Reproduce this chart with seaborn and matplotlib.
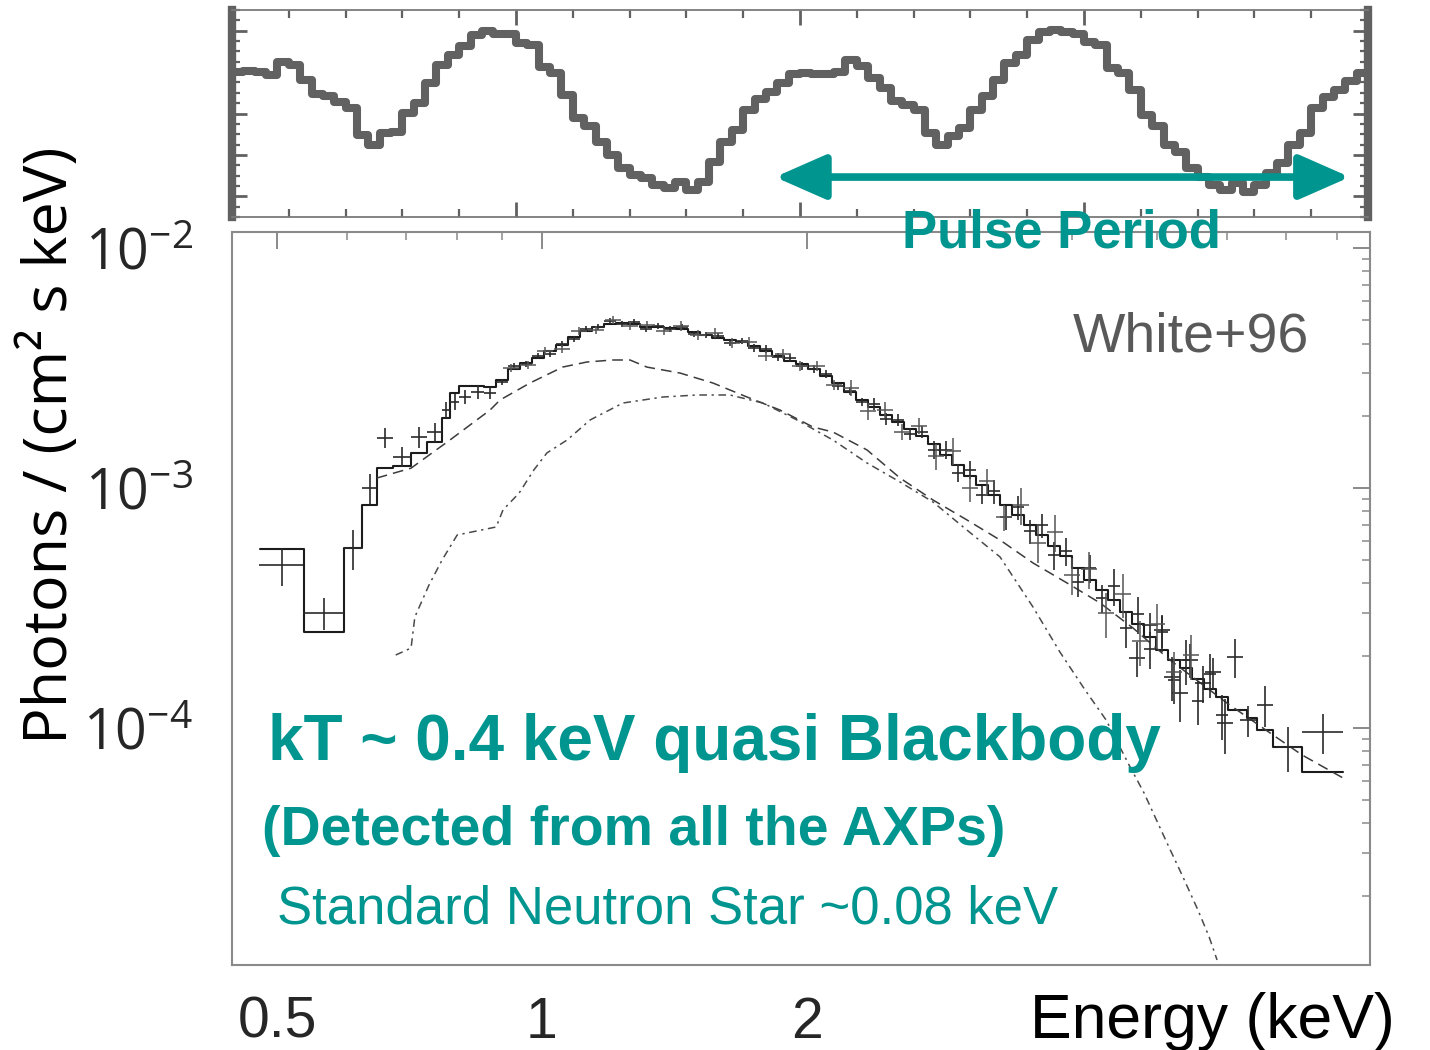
import numpy as np
import matplotlib
matplotlib.use("Agg")
import matplotlib.pyplot as plt
import seaborn as sns
import pandas as pd
from matplotlib.ticker import FixedLocator, NullFormatter, MultipleLocator

# ---------------- data ----------------
# pulse profile: 50 phase bins per cycle, two cycles shown (normalised rate)
pulse_cycle1 = [0.700, 0.705, 0.700, 0.686, 0.749, 0.734, 0.662, 0.594, 0.585, 0.556,
                0.527, 0.396, 0.348, 0.406, 0.411, 0.502, 0.551, 0.647, 0.734, 0.783,
                0.826, 0.879, 0.899, 0.884, 0.884, 0.841, 0.831, 0.725, 0.696, 0.589,
                0.478, 0.440, 0.362, 0.300, 0.237, 0.203, 0.188, 0.155, 0.140, 0.169,
                0.130, 0.169, 0.266, 0.362, 0.420, 0.517, 0.570, 0.604, 0.647, 0.691]
pulse_cycle2 = [0.696, 0.691, 0.691, 0.700, 0.758, 0.729, 0.671, 0.623, 0.560, 0.541,
                0.517, 0.406, 0.348, 0.391, 0.430, 0.517, 0.585, 0.662, 0.744, 0.783,
                0.855, 0.894, 0.903, 0.894, 0.884, 0.845, 0.831, 0.720, 0.696, 0.614,
                0.493, 0.440, 0.348, 0.314, 0.237, 0.193, 0.155, 0.130, 0.164, 0.121,
                0.155, 0.213, 0.261, 0.348, 0.406, 0.527, 0.580, 0.614, 0.657, 0.696]

# total model, low-energy bins (edges in keV) and values (photons/cm2/s/keV)
model_low_edges = [0.478, 0.536, 0.596, 0.625, 0.649, 0.677, 0.710, 0.740, 0.770,
                   0.786, 0.805, 0.830, 0.859, 0.887]
model_low_total = [5.57e-4, 2.51e-4, 5.62e-4, 8.50e-4, 1.21e-3, 1.235e-3, 1.40e-3,
                   1.555e-3, 1.957e-3, 2.488e-3, 2.66e-3, 2.66e-3, 2.635e-3]
# fine bins (centres, keV)
fine_energy = [0.901, 0.929, 0.959, 0.990, 1.021, 1.054, 1.087, 1.122, 1.158, 1.195,
               1.233, 1.272, 1.313, 1.354, 1.398, 1.442, 1.488, 1.536, 1.585, 1.635,
               1.688, 1.741, 1.797, 1.854, 1.913, 1.974, 2.037, 2.102, 2.169, 2.239,
               2.310, 2.384, 2.460, 2.538, 2.619, 2.703, 2.789, 2.878, 2.970, 3.064,
               3.162, 3.263, 3.367, 3.474, 3.585, 3.700, 3.818, 3.939, 4.065, 4.195,
               4.329, 4.467, 4.609, 4.756, 4.908, 5.065, 5.226, 5.393, 5.565, 5.743,
               5.926]
model_fine_total = [2.82e-3, 3.13e-3, 3.32e-3, 3.48e-3, 3.72e-3, 3.94e-3, 4.26e-3, 4.51e-3,
                    4.69e-3, 4.82e-3, 4.87e-3, 4.82e-3, 4.69e-3, 4.69e-3, 4.64e-3, 4.60e-3,
                    4.47e-3, 4.34e-3, 4.22e-3, 4.14e-3, 4.06e-3, 3.91e-3, 3.72e-3, 3.55e-3,
                    3.38e-3, 3.29e-3, 3.13e-3, 2.93e-3, 2.74e-3, 2.51e-3, 2.33e-3, 2.18e-3,
                    2.01e-3, 1.88e-3, 1.76e-3, 1.65e-3, 1.53e-3, 1.37e-3, 1.25e-3, 1.12e-3,
                    1.03e-3, 9.35e-4, 8.50e-4, 7.72e-4, 7.01e-4, 6.37e-4, 5.73e-4, 5.21e-4,
                    4.64e-4, 4.14e-4, 3.76e-4, 3.41e-4, 3.04e-4, 2.71e-4, 2.39e-4, 2.11e-4,
                    1.92e-4, 1.78e-4, 1.60e-4, 1.45e-4, 1.35e-4]
model_high_edges = [6.018, 6.326, 6.494, 6.771, 7.305, 8.133]
model_high_total = [1.19e-4, 1.10e-4, 9.81e-5, 8.33e-5, 6.56e-5]

# model components
pl_energy = [0.649, 0.710, 0.786, 0.873, 0.896, 0.969, 1.056, 1.125, 1.204, 1.259, 1.316,
             1.435, 1.564, 1.710, 1.864, 2.032, 2.141, 2.341, 2.552, 2.782, 3.040, 3.315,
             3.614, 3.950, 4.306, 4.694, 5.172, 6.004, 6.771, 7.305, 8.133]
pl_flux = [1.10e-3, 1.21e-3, 1.585e-3, 2.113e-3, 2.326e-3, 2.738e-3, 3.192e-3, 3.350e-3,
           3.415e-3, 3.415e-3, 3.19e-3, 3.013e-3, 2.738e-3, 2.394e-3, 2.113e-3, 1.795e-3,
           1.711e-3, 1.44e-3, 1.10e-3, 8.91e-4, 7.36e-4, 6.07e-4, 4.87e-4, 4.02e-4,
           3.32e-4, 2.61e-4, 1.92e-4, 1.27e-4, 9.35e-5, 7.72e-5, 6.19e-5]
bb_energy = [0.682, 0.710, 0.717, 0.744, 0.770, 0.801, 0.887, 0.903, 0.942, 0.979, 1.013,
             1.068, 1.134, 1.236, 1.372, 1.500, 1.635, 1.783, 1.949, 2.141, 2.341, 2.552,
             2.782, 3.040, 3.315, 3.614, 3.878, 4.141, 4.375, 4.646, 4.832, 5.131, 5.351,
             5.565, 5.728, 5.849]
bb_flux = [2.014e-4, 2.154e-4, 2.90e-4, 3.94e-4, 5.01e-4, 6.37e-4, 6.88e-4, 8.10e-4,
           9.53e-4, 1.189e-3, 1.40e-3, 1.585e-3, 1.920e-3, 2.260e-3, 2.394e-3, 2.441e-3,
           2.441e-3, 2.26e-3, 1.92e-3, 1.585e-3, 1.271e-3, 1.059e-3, 8.74e-4, 6.68e-4,
           5.16e-4, 3.19e-4, 2.07e-4, 1.44e-4, 1.08e-4, 7.01e-5, 5.36e-5, 3.32e-5,
           2.39e-5, 1.74e-5, 1.35e-5, 1.08e-5]

# data points (crosses), detector 1
low_energy = [0.506, 0.565, 0.610, 0.637, 0.663, 0.693, 0.725, 0.755, 0.778, 0.796,
              0.818, 0.845, 0.873]
low_energy_err = [0.029, 0.030, 0.0145, 0.012, 0.014, 0.0165, 0.015, 0.015, 0.008,
                  0.0095, 0.0125, 0.0145, 0.014]
low_flux = [4.78e-4, 3.01e-4, 5.62e-4, 1.00e-3, 1.62e-3, 1.35e-3, 1.63e-3, 1.71e-3,
            2.11e-3, 2.28e-3, 2.39e-3, 2.51e-3, 2.49e-3]
low_flux_err = [8.7e-5, 4.6e-5, 1.08e-4, 1.44e-4, 1.55e-4, 1.29e-4, 1.57e-4, 1.48e-4,
                1.62e-4, 1.75e-4, 1.61e-4, 1.69e-4, 1.43e-4]

fine_energy_err = [0.014, 0.015, 0.015, 0.016, 0.016, 0.017, 0.017, 0.018, 0.018, 0.019,
                   0.019, 0.020, 0.021, 0.021, 0.022, 0.023, 0.024, 0.024, 0.025, 0.026,
                   0.027, 0.028, 0.028, 0.029, 0.030, 0.031, 0.032, 0.033, 0.034, 0.035,
                   0.036, 0.038, 0.039, 0.040, 0.041, 0.043, 0.044, 0.045, 0.047, 0.048,
                   0.050, 0.052, 0.053, 0.055, 0.057, 0.058, 0.060, 0.062, 0.064, 0.066,
                   0.068, 0.071, 0.073, 0.075, 0.078, 0.080, 0.083, 0.085, 0.088, 0.091,
                   0.094]
fine_flux = [2.76e-3, 3.22e-3, 3.29e-3, 3.55e-3, 3.62e-3, 3.98e-3, 4.18e-3, 4.60e-3,
             4.69e-3, 4.96e-3, 4.82e-3, 4.92e-3, 4.60e-3, 4.73e-3, 4.60e-3, 4.69e-3,
             4.38e-3, 4.34e-3, 4.30e-3, 4.02e-3, 4.10e-3, 3.83e-3, 3.79e-3, 3.51e-3,
             3.48e-3, 3.22e-3, 3.13e-3, 2.99e-3, 2.66e-3, 2.54e-3, 2.28e-3, 2.24e-3,
             1.94e-3, 1.92e-3, 1.68e-3, 1.71e-3, 1.44e-3, 1.44e-3, 1.16e-3, 1.19e-3,
             9.35e-4, 9.72e-4, 7.57e-4, 8.33e-4, 6.62e-4, 7.01e-4, 5.26e-4, 5.46e-4,
             4.06e-4, 4.64e-4, 3.48e-4, 3.91e-4, 2.61e-4, 2.99e-4, 2.13e-4, 2.51e-4,
             1.59e-4, 1.92e-4, 1.30e-4, 1.68e-4, 1.13e-4]
fine_flux_err = [8.0e-5, 9.3e-5, 9.5e-5, 1.02e-4, 1.04e-4, 1.15e-4, 1.20e-4, 1.32e-4,
                 1.35e-4, 1.43e-4, 1.39e-4, 1.42e-4, 1.32e-4, 1.36e-4, 1.32e-4, 1.35e-4,
                 1.26e-4, 1.25e-4, 1.24e-4, 1.16e-4, 1.18e-4, 1.47e-4, 1.46e-4, 1.35e-4,
                 1.34e-4, 1.24e-4, 1.20e-4, 1.15e-4, 1.02e-4, 9.7e-5, 8.8e-5, 1.29e-4,
                 1.12e-4, 1.11e-4, 9.7e-5, 9.9e-5, 1.24e-4, 1.24e-4, 1.00e-4, 1.03e-4,
                 8.1e-5, 1.12e-4, 8.7e-5, 9.6e-5, 7.6e-5, 8.1e-5, 7.0e-5, 7.3e-5,
                 5.4e-5, 6.2e-5, 4.7e-5, 6.8e-5, 4.5e-5, 5.2e-5, 3.7e-5, 4.3e-5,
                 3.3e-5, 4.1e-5, 2.7e-5, 3.5e-5, 2.4e-5]

high_energy = [4.745, 4.908, 5.065, 5.199, 5.309, 5.449, 5.638, 5.788, 5.973, 6.131,
               6.343, 6.631, 7.041, 7.720]
high_energy_err = [0.10, 0.10, 0.11, 0.11, 0.11, 0.11, 0.12, 0.12, 0.13, 0.13, 0.13,
                   0.14, 0.22, 0.41]
high_flux = [1.96e-4, 2.69e-4, 2.56e-4, 1.63e-4, 1.40e-4, 1.92e-4, 1.54e-4, 1.71e-4,
             1.05e-4, 1.98e-4, 1.08e-4, 1.25e-4, 8.33e-5, 9.62e-5]
high_flux_err = [3.3e-5, 3.3e-5, 4.0e-5, 3.4e-5, 3.4e-5, 3.1e-5, 2.7e-5, 2.5e-5, 2.7e-5,
                 3.6e-5, 1.6e-5, 2.4e-5, 1.8e-5, 1.8e-5]

# data points, detector 2
det2_energy = [0.922, 0.964, 1.008, 1.054, 1.102, 1.152, 1.204, 1.259, 1.316, 1.376,
               1.439, 1.504, 1.573, 1.644, 1.719, 1.797, 1.879, 1.964, 2.054, 2.147,
               2.245, 2.347, 2.454, 2.565, 2.682, 2.804, 2.932, 3.064, 3.204, 3.350,
               3.502, 3.661, 3.828, 4.002, 4.184, 4.375, 4.574, 4.782, 4.999, 5.226,
               5.464]
det2_energy_err = [0.019, 0.020, 0.021, 0.022, 0.023, 0.024, 0.025, 0.026, 0.028, 0.029,
                   0.030, 0.032, 0.033, 0.035, 0.036, 0.038, 0.039, 0.041, 0.043, 0.045,
                   0.047, 0.049, 0.052, 0.054, 0.056, 0.059, 0.062, 0.064, 0.067, 0.070,
                   0.074, 0.077, 0.080, 0.084, 0.088, 0.092, 0.096, 0.100, 0.105, 0.110,
                   0.115]
det2_flux = [3.16e-3, 3.26e-3, 3.72e-3, 3.79e-3, 4.51e-3, 4.55e-3, 5.01e-3, 4.73e-3,
             4.78e-3, 4.51e-3, 4.73e-3, 4.34e-3, 4.43e-3, 4.02e-3, 4.06e-3, 3.55e-3,
             3.62e-3, 3.22e-3, 3.22e-3, 2.69e-3, 2.61e-3, 2.09e-3, 2.11e-3, 1.71e-3,
             1.81e-3, 1.36e-3, 1.43e-3, 1.00e-3, 1.07e-3, 7.57e-4, 8.50e-4, 5.90e-4,
             6.56e-4, 4.34e-4, 4.60e-4, 3.01e-4, 3.62e-4, 2.30e-4, 2.71e-4, 1.71e-4,
             2.01e-4]
det2_flux_err = [1.21e-4, 1.25e-4, 1.43e-4, 1.46e-4, 1.73e-4, 1.75e-4, 1.92e-4, 1.82e-4,
                 1.83e-4, 1.73e-4, 2.27e-4, 2.08e-4, 2.12e-4, 1.93e-4, 1.95e-4, 1.70e-4,
                 1.74e-4, 1.55e-4, 1.55e-4, 1.29e-4, 2.00e-4, 1.61e-4, 1.62e-4, 1.31e-4,
                 1.39e-4, 1.69e-4, 1.78e-4, 1.25e-4, 1.33e-4, 9.4e-5, 1.47e-4, 1.02e-4,
                 1.13e-4, 7.5e-5, 8.0e-5, 6.4e-5, 7.6e-5, 4.9e-5, 5.7e-5, 3.6e-5, 4.2e-5]

x_tick_values = [0.5, 1, 2]
x_tick_labels = ["0.5", "1", "2"]
y_tick_values = [1e-4, 1e-3, 1e-2]
y_tick_labels = [r"$\mathregular{10^{-4}}$", r"$\mathregular{10^{-3}}$", r"$\mathregular{10^{-2}}$"]

# ---------------- styling ----------------
sns.set_theme(style="white")
plt.rcParams["font.family"] = ["Liberation Sans", "DejaVu Sans"]
TEAL = "#00958F"
W, H = 1430, 1050
SANS = ["Liberation Sans", "DejaVu Sans"]
OPEN = ["Open Sans", "DejaVu Sans"]

fig = plt.figure(figsize=(W / 100, H / 100), dpi=100)
fig.patch.set_facecolor("white")


def fx(px):
    return px / W


def fy(py):
    return 1 - py / H


# ---------------- top panel: pulse profile ----------------
ax_top = fig.add_axes([fx(232), fy(217), (1368 - 232) / W, (217 - 10) / H])
prof = pulse_cycle1 + pulse_cycle2
nb = len(pulse_cycle1)
phase_edges = np.arange(len(prof) + 1) / nb
df_lc = pd.DataFrame({"phase": phase_edges, "rate": prof + [prof[-1]]})
sns.lineplot(data=df_lc, x="phase", y="rate", ax=ax_top, drawstyle="steps-post",
             color="#616161", linewidth=5.8, estimator=None, sort=False, legend=False)
ax_top.set_xlim(0, 2)
ax_top.set_ylim(0, 1)
ax_top.set_xlabel("")
ax_top.set_ylabel("")
for side in ["left", "right"]:
    ax_top.spines[side].set_linewidth(6)
    ax_top.spines[side].set_color("#616161")
for side in ["top", "bottom"]:
    ax_top.spines[side].set_linewidth(1.3)
    ax_top.spines[side].set_color("#7a7a7a")
ax_top.yaxis.set_major_locator(FixedLocator([0.1, 0.3, 0.5, 0.7, 0.9]))
ax_top.yaxis.set_minor_locator(MultipleLocator(0.05))
ax_top.xaxis.set_major_locator(MultipleLocator(0.5))
ax_top.xaxis.set_minor_locator(MultipleLocator(0.1))
ax_top.tick_params(which="both", direction="in", left=True, right=True, top=True,
                   bottom=True, labelleft=False, labelbottom=False, color="#616161")
ax_top.tick_params(which="major", length=11, width=2)
ax_top.tick_params(which="minor", length=6, width=1.6)

# pulse-period arrow (one full cycle)
ax_top.annotate("", xy=(1.968, 0.193), xytext=(0.956, 0.193), xycoords="data",
                arrowprops=dict(arrowstyle="<|-|>,head_length=1.25,head_width=0.55",
                                color=TEAL, lw=5.5, shrinkA=0, shrinkB=0,
                                mutation_scale=25),
                annotation_clip=False)

# ---------------- bottom panel: spectrum ----------------
ax = fig.add_axes([fx(232), fy(965), (1370 - 232) / W, (965 - 232) / H])
ax.set_xscale("log")
ax.set_yscale("log")

inner = list(np.sqrt(np.array(fine_energy[:-1]) * np.array(fine_energy[1:])))
model_edges = model_low_edges + inner + model_high_edges
model_vals = model_low_total + model_fine_total + model_high_total
df_model = pd.DataFrame({"E": model_edges, "F": model_vals + [model_vals[-1]]})
sns.lineplot(data=df_model, x="E", y="F", ax=ax, drawstyle="steps-post",
             color="#1c1c1c", linewidth=1.5, estimator=None, sort=False, legend=False)

df_pl = pd.DataFrame({"E": pl_energy, "F": pl_flux})
sns.lineplot(data=df_pl, x="E", y="F", ax=ax, color="#3c3c3c", linewidth=1.1,
             linestyle=(0, (7, 4)), estimator=None, sort=False, legend=False)
df_bb = pd.DataFrame({"E": bb_energy, "F": bb_flux})
sns.lineplot(data=df_bb, x="E", y="F", ax=ax, color="#4a4a4a", linewidth=1.1,
             linestyle=(0, (5, 3, 1.5, 3)), estimator=None, sort=False, legend=False)

data_E = low_energy + fine_energy + high_energy
data_Eerr = low_energy_err + fine_energy_err + high_energy_err
data_F = low_flux + fine_flux + high_flux
data_Ferr = low_flux_err + fine_flux_err + high_flux_err
ax.errorbar(data_E, data_F, xerr=data_Eerr, yerr=data_Ferr, fmt="none",
            ecolor="#2a2a2a", elinewidth=1.2, capsize=0, zorder=3)
ax.errorbar(det2_energy, det2_flux, xerr=det2_energy_err, yerr=det2_flux_err,
            fmt="none", ecolor="#555555", elinewidth=1.1, capsize=0, zorder=3)

ax.set_xlim(0.4444, 8.727)
ax.set_ylim(1.029e-5, 1.166e-2)
ax.set_xlabel("")
ax.set_ylabel("")
for side in ["left", "right", "top", "bottom"]:
    ax.spines[side].set_linewidth(1.5)
    ax.spines[side].set_color("#8a8a8a")

ax.xaxis.set_major_locator(FixedLocator(x_tick_values))
ax.xaxis.set_minor_locator(FixedLocator([0.6, 0.7, 0.8, 0.9, 3, 4, 5, 6, 7, 8]))
ax.xaxis.set_minor_formatter(NullFormatter())
ax.set_xticks(x_tick_values, labels=x_tick_labels, fontsize=41, family=SANS)
ax.yaxis.set_major_locator(FixedLocator(y_tick_values))
ax.yaxis.set_minor_locator(FixedLocator([m * d for d in [1e-5, 1e-4, 1e-3]
                                         for m in range(2, 10)]))
ax.yaxis.set_minor_formatter(NullFormatter())
ax.set_yticks(y_tick_values, labels=y_tick_labels, fontsize=40, family=OPEN)
ax.tick_params(which="both", direction="in", top=True, right=True, color="#8a8a8a")
ax.tick_params(which="major", length=12, width=1.4)
ax.tick_params(which="minor", length=6, width=1.1)
ax.tick_params(axis="x", which="major", pad=22)
ax.tick_params(axis="y", which="major", pad=28)

# ---------------- texts ----------------
fig.text(fx(50), fy(445), "Photons / (cm² s keV)", rotation=90, ha="center",
         va="center", fontsize=44, family=OPEN, color="black")
fig.text(fx(1030), fy(1038), "Energy (keV)", ha="left", va="baseline",
         fontsize=45, family=SANS, color="black")
fig.text(fx(1062), fy(247), "Pulse Period", ha="center", va="baseline",
         fontsize=38, fontweight="bold", color=TEAL, zorder=10)
fig.text(fx(1073), fy(352), "White+96", ha="left", va="baseline",
         fontsize=40, color="#595959")
fig.text(fx(268), fy(760), "kT ~ 0.4 keV quasi Blackbody", ha="left",
         va="baseline", fontsize=46, fontweight="bold", color=TEAL)
fig.text(fx(262), fy(845), "(Detected from all the AXPs)", ha="left",
         va="baseline", fontsize=40, fontweight="bold", color=TEAL)
fig.text(fx(277), fy(924), "Standard Neutron Star ~0.08 keV", ha="left",
         va="baseline", fontsize=38, color=TEAL)

fig.savefig("out.png", dpi=100, facecolor="white")
